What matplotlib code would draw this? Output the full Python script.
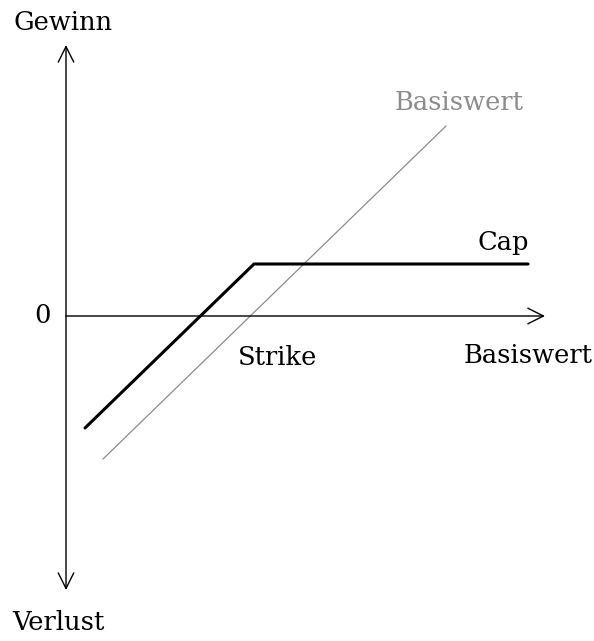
import matplotlib.pyplot as plt

# payoff diagram, origin = (0, 0), units roughly pixels of the original
cap_x = [19, 188, 462]
cap_y = [-112, 52, 52]
base_x = [37, 380]
base_y = [-143, 190]
strike = 188

x_axis = (0, 479)
y_axis = (-274, 271)

plt.rcParams['font.family'] = ['DejaVu Serif']

fig = plt.figure(figsize=(5.94, 6.41), dpi=100)
ax = fig.add_axes([0, 0, 1, 1])
ax.set_xlim(-66, 528)
ax.set_ylim(-325, 316)
ax.axis('off')

arrow = dict(arrowstyle='->', lw=1.0, color='black', mutation_scale=28,
             shrinkA=0, shrinkB=0)
ax.annotate('', xy=(x_axis[1], 0), xytext=(x_axis[0], 0), arrowprops=arrow)
ax.annotate('', xy=(0, y_axis[1]), xytext=(0, 0), arrowprops=arrow)
ax.annotate('', xy=(0, y_axis[0]), xytext=(0, 0), arrowprops=arrow)

ax.plot(base_x, base_y, color='#8c8c8c', lw=0.9, solid_capstyle='round')
ax.plot(cap_x, cap_y, color='black', lw=2.2, solid_capstyle='round',
        solid_joinstyle='miter')

fs = 18.5
ax.text(-3, 294, 'Gewinn', fontsize=fs, ha='center', va='center')
ax.text(-8, -306, 'Verlust', fontsize=fs, ha='center', va='center')
ax.text(-24, 0, '0', fontsize=fs, ha='center', va='center')
ax.text(strike + 24, -42, 'Strike', fontsize=fs, ha='center', va='center')
ax.text(462, -40, 'Basiswert', fontsize=fs, ha='center', va='center')
ax.text(437, 73, 'Cap', fontsize=fs, ha='center', va='center')
ax.text(393, 214, 'Basiswert', fontsize=fs, ha='center', va='center',
        color='#8c8c8c')

fig.savefig('out.png', dpi=100)
